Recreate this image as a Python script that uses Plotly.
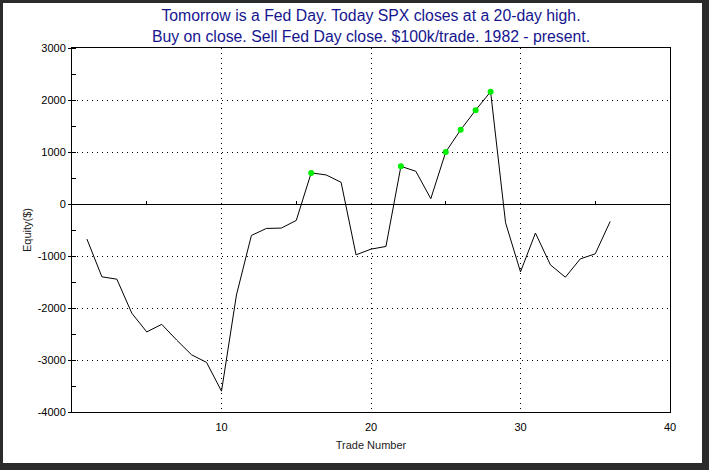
import plotly.graph_objects as go

# Data
trades = list(range(1, 37))
equity = [-675, -1400, -1446, -2100, -2460, -2314, -2616, -2900, -3046, -3600,
          -1750, -605, -470, -463, -316, 598, 559, 417, -977, -868,
          -817, 725, 629, 102, 1002, 1427, 1805, 2159, -360, -1305,
          -559, -1170, -1408, -1055, -958, -335]

title_lines = ["Tomorrow is a Fed Day. Today SPX closes at a 20-day high.",
               "Buy on close. Sell Fed Day close. $100k/trade. 1982 - present."]
x_ticks = [10, 20, 30, 40]
zero_line_ticks = [5, 15, 25, 35]
y_ticks = [-4000, -3000, -2000, -1000, 0, 1000, 2000, 3000]
y_tick_labels = [str(v) for v in y_ticks]

# New equity highs (running max starting at 0)
hi_x, hi_y = [], []
run_max = 0
for t, v in zip(trades, equity):
    if v > run_max:
        run_max = v
        hi_x.append(t)
        hi_y.append(v)

W, H = 709, 470
L, R, T, B = 72, 39, 48, 58
PW, PH = W - L - R, H - T - B


def px_to_paper_x(px):
    return (px - L) / PW


def px_to_paper_y(py):
    return (H - B - py) / PH


fig = go.Figure()
fig.add_trace(go.Scatter(x=trades, y=equity, mode="lines",
                         line=dict(color="black", width=1),
                         showlegend=False, hoverinfo="skip"))
fig.add_trace(go.Scatter(x=hi_x, y=hi_y, mode="markers",
                         marker=dict(color="#00ee00", size=6, line=dict(width=0)),
                         showlegend=False, hoverinfo="skip"))
# invisible trace to host the zero-line tick axis
fig.add_trace(go.Scatter(x=trades, y=equity, xaxis="x2", mode="lines",
                         line=dict(width=0, color="rgba(0,0,0,0)"),
                         showlegend=False, hoverinfo="skip"))

font_family = "Liberation Sans, Arial, sans-serif"

fig.update_layout(
    width=W, height=H,
    margin=dict(l=L, r=R, t=T, b=B, pad=0),
    paper_bgcolor="#2b2b2b",
    plot_bgcolor="white",
    font=dict(family=font_family, size=11, color="black"),
    title=dict(text="<br>".join(title_lines), x=(L + PW / 2) / W, xanchor="center",
               y=1 - 21 / H, yanchor="middle", yref="container", xref="container",
               font=dict(family=font_family, size=15.8, color="#16168f")),
    xaxis=dict(range=[0, 40], tickvals=x_ticks, showgrid=True, gridcolor="black",
               griddash="1px,4px", gridwidth=1, zeroline=False,
               showline=True, linecolor="black", linewidth=1, mirror=True,
               ticks="", ticklabelstandoff=5,
               title=dict(text="Trade Number", standoff=9,
                          font=dict(size=11, color="#222"))),
    xaxis2=dict(range=[0, 40], overlaying="x", anchor="free", position=4 / 7,
                side="bottom", tickvals=zero_line_ticks, ticks="inside", ticklen=3,
                tickcolor="black", showticklabels=False, showgrid=False,
                zeroline=False, showline=False),
    yaxis=dict(range=[-4000, 3000], tickvals=y_ticks, ticktext=y_tick_labels,
               showgrid=True, gridcolor="black",
               griddash="1px,4px", gridwidth=1,
               zeroline=True, zerolinecolor="black", zerolinewidth=1,
               showline=True, linecolor="black", linewidth=1, mirror=True,
               ticks="outside", ticklen=3, tickcolor="black",
               minor=dict(dtick=500, ticks="inside", ticklen=4, tickcolor="black",
                          showgrid=False),
               title=dict(text="Equity($)", standoff=3,
                          font=dict(size=11, color="#222"))),
    shapes=[dict(type="rect", xref="paper", yref="paper", layer="below",
                 x0=px_to_paper_x(3), x1=px_to_paper_x(702),
                 y0=px_to_paper_y(463), y1=px_to_paper_y(3),
                 fillcolor="white", line=dict(width=0))],
)

fig.write_html("out.html", config={"displayModeBar": False},
               post_script="document.body.style.margin='0px';document.body.style.padding='0px';")
